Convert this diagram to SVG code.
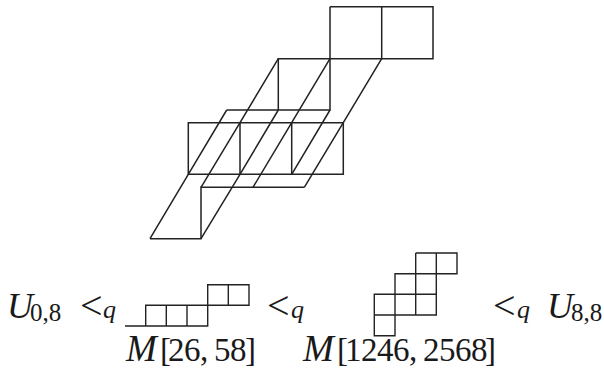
<svg xmlns="http://www.w3.org/2000/svg" width="604" height="371" viewBox="0 0 604 371">
<style>
.l{fill:none;stroke:#222;stroke-width:1.5}
.s{fill:none;stroke:#222;stroke-width:1.4}
text{font-family:"Liberation Serif","Times New Roman",serif;fill:#1a1a1a;font-size:33px}
.u{font-style:italic;font-size:36px}
.m{font-style:italic;font-size:37px}
.lt{font-size:40px}
.sub{font-size:25px}
.subi{font-size:26px;font-style:italic}
</style>
<rect width="604" height="371" fill="#fff"/>
<g id="connectors">
<path class="l" d="M330 6.7H433V58.7H278.3V110M330 6.7V110H226.7M381.7 6.7V58.7"/>
<path class="l" d="M188.3 122.7H343.3V174.3H188.3ZM240 122.7V174.3M291.7 122.7V174.3"/>
<path class="l" d="M304.3 187.3H201V238.7H150"/>
<path class="l" d="M150 238.7L188.3 174.3L226.7 110M201 238.7L240 174.3L278.3 110M201 187.3L240 122.7L278.3 58.7M253 187.3L291.7 122.7L330 58.7M291.7 174.3L330 110M304.3 187.3L343.3 122.7L381.7 58.7"/>
</g>
<g id="m-26-58">
<path class="s" d="M125 326H207.7V284.7H249V305.3H145.7V326M166.3 305.3V326M187 305.3V326M228.3 284.7V305.3"/>
</g>
<g id="m-1246-2568">
<path class="s" d="M415.7 253H457V273.7H395V315H436.3V253M436.3 294.3H374.3V335.7H395V315M374.3 315H395M415.7 253V315"/>
</g>
<g id="labels">
<text class="u" x="7" y="318">U</text>
<text class="sub" x="30" y="321">0,8</text>
<text class="lt" x="80" y="319">&lt;</text>
<text class="subi" x="103" y="318">q</text>
<text class="lt" x="267" y="319">&lt;</text>
<text class="subi" x="291" y="318">q</text>
<text class="lt" x="493" y="319">&lt;</text>
<text class="subi" x="517" y="318">q</text>
<text class="u" x="547" y="318">U</text>
<text class="sub" x="571" y="321">8,8</text>
<text class="m" x="126" y="361">M</text>
<text x="160 168 184 200 209 214 230 245" y="361">[26, 58]</text>
<text class="m" x="303" y="361">M</text>
<text x="337 345 361 377 393 409 418 423 439 455 471 485" y="361">[1246, 2568]</text>
</g>
</svg>
